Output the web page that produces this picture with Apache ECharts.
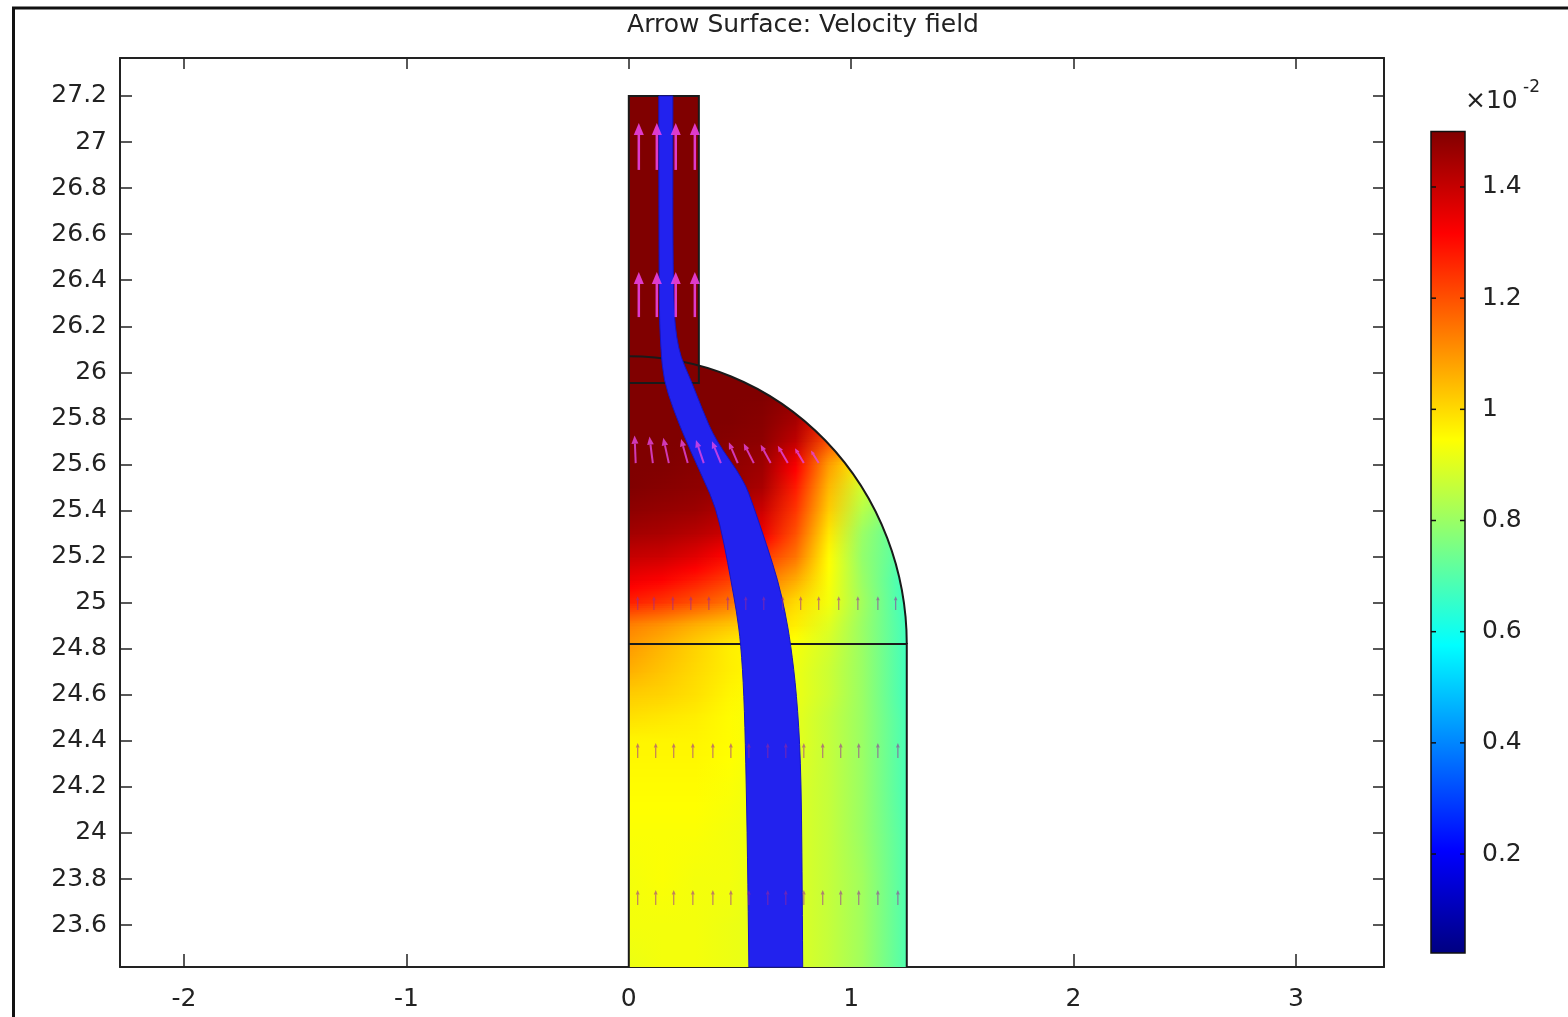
<!DOCTYPE html>
<html>
<head>
<meta charset="utf-8">
<script src="https://cdn.jsdelivr.net/npm/echarts@6.0.0/dist/echarts.min.js"></script>
<style>
  html, body { margin: 0; padding: 0; background: #fff; }
  #main { width: 1568px; height: 1017px; }
</style>
</head>
<body>
<div id="main"></div>
<script>
var FONT = 'DejaVu Sans';
var INK = '#222';

// axis ranges
var xRange = [-2.288, 3.396];
var yRange = [23.418, 27.365];

// colour bar (x10^-2)
var speedRange = [0.022, 1.5];
var colorTicks = [0.2, 0.4, 0.6, 0.8, 1, 1.2, 1.4];

// geometry of the domain
var tubeX = [0, 0.315];
var tubeY = [25.954, 27.2];
var domeCenter = [0, 24.82];
var domeR = 1.25;
var boxX = [0, 1.25];

// velocity magnitude, rows of fieldY, columns at fieldX
var fieldX = [0, 0.15, 0.3, 0.45, 0.6, 0.75, 0.9, 1.05, 1.25];
var fieldY = [23.45, 23.6, 23.8, 24.0, 24.2, 24.4, 24.5, 24.6, 24.7, 24.8, 24.9,
              25.0, 25.1, 25.2, 25.3, 25.4, 25.5, 25.6, 25.7, 25.8, 25.9, 26.0];
var fieldV = [
  [0.92, 0.93, 0.93, 0.92, 0.91, 0.90, 0.86, 0.81, 0.69],
  [0.93, 0.93, 0.93, 0.92, 0.91, 0.90, 0.86, 0.81, 0.69],
  [0.93, 0.94, 0.93, 0.93, 0.91, 0.90, 0.86, 0.81, 0.69],
  [0.94, 0.94, 0.94, 0.93, 0.92, 0.90, 0.86, 0.80, 0.69],
  [0.95, 0.95, 0.95, 0.94, 0.92, 0.90, 0.86, 0.80, 0.68],
  [0.96, 0.96, 0.96, 0.95, 0.93, 0.91, 0.86, 0.80, 0.68],
  [0.99, 0.98, 0.97, 0.95, 0.93, 0.91, 0.86, 0.80, 0.68],
  [1.02, 1.01, 0.99, 0.96, 0.94, 0.92, 0.87, 0.80, 0.67],
  [1.06, 1.03, 1.00, 0.97, 0.95, 0.92, 0.87, 0.80, 0.67],
  [1.09, 1.05, 1.01, 0.97, 0.95, 0.93, 0.88, 0.80, 0.67],
  [1.13, 1.10, 1.06, 1.03, 1.00, 0.97, 0.90, 0.80, 0.67],
  [1.27, 1.24, 1.20, 1.15, 1.08, 1.00, 0.93, 0.81, 0.66],
  [1.34, 1.32, 1.28, 1.23, 1.15, 1.07, 0.94, 0.80, 0.66],
  [1.40, 1.39, 1.36, 1.31, 1.24, 1.15, 0.95, 0.79, 0.68],
  [1.45, 1.44, 1.42, 1.39, 1.34, 1.20, 0.98, 0.80, 0.68],
  [1.48, 1.47, 1.46, 1.43, 1.39, 1.24, 1.02, 0.84, 0.72],
  [1.50, 1.49, 1.48, 1.47, 1.44, 1.28, 1.05, 0.88, 0.80],
  [1.50, 1.50, 1.49, 1.48, 1.46, 1.33, 1.09, 0.95, 0.90],
  [1.50, 1.50, 1.50, 1.49, 1.48, 1.41, 1.20, 1.10, 1.10],
  [1.50, 1.50, 1.50, 1.50, 1.49, 1.45, 1.30, 1.30, 1.30],
  [1.50, 1.50, 1.50, 1.50, 1.50, 1.48, 1.45, 1.45, 1.45],
  [1.50, 1.50, 1.50, 1.50, 1.50, 1.50, 1.50, 1.50, 1.50]
];
var tubeSpeed = 1.5;

// streamline bundle, outer edges (top to bottom)
var bandLeft = [[0.135, 27.2], [0.135, 26.314], [0.144, 26.097], [0.157, 25.967], [0.2, 25.84],
                [0.256, 25.706], [0.337, 25.533], [0.391, 25.415], [0.43, 25.25], [0.459, 25.098],
                [0.485, 24.96], [0.504, 24.82], [0.518, 24.6], [0.526, 24.317], [0.534, 23.9], [0.54, 23.418]];
var bandRight = [[0.198, 27.2], [0.198, 26.314], [0.22, 26.097], [0.279, 25.967], [0.33, 25.84],
                 [0.39, 25.706], [0.517, 25.533], [0.562, 25.415], [0.62, 25.25], [0.67, 25.098],
                 [0.703, 24.96], [0.728, 24.82], [0.755, 24.6], [0.773, 24.317], [0.779, 23.9], [0.782, 23.418]];

// arrows: tail x, tail y, dx, dy
var tubeArrowX = [0.045, 0.126, 0.211, 0.297];
var tubeArrowY = [26.879, 26.24];
var tubeArrowV = [0.204, 0.196];

var domeArrowY = 25.606;
var domeArrowX = [0.031, 0.108, 0.18, 0.265, 0.337, 0.414, 0.49, 0.562, 0.638, 0.715, 0.787, 0.854];
var domeArrowU = [-0.005, -0.015, -0.025, -0.03, -0.035, -0.04, -0.04, -0.045, -0.045, -0.045, -0.04, -0.035];
var domeArrowV = [0.12, 0.115, 0.11, 0.105, 0.1, 0.095, 0.09, 0.085, 0.08, 0.075, 0.065, 0.055];

var lowArrowY = [24.968, 24.326, 23.687];
var lowArrowV = [0.06, 0.065, 0.065];
var lowArrowX = [
  [0.04, 0.113, 0.198, 0.279, 0.36, 0.445, 0.526, 0.607, 0.692, 0.773, 0.854, 0.944, 1.03, 1.12, 1.2],
  [0.04, 0.121, 0.202, 0.288, 0.378, 0.459, 0.54, 0.625, 0.706, 0.787, 0.872, 0.953, 1.034, 1.12, 1.21],
  [0.04, 0.121, 0.202, 0.288, 0.378, 0.459, 0.54, 0.625, 0.706, 0.787, 0.872, 0.953, 1.034, 1.12, 1.21]
];

// rainbow colour table
var jet = [[0, [0, 0, 128]], [0.125, [0, 0, 255]], [0.375, [0, 255, 255]],
           [0.625, [255, 255, 0]], [0.875, [255, 0, 0]], [1, [128, 0, 0]]];

function speedColor(v) {
  var t = (v - speedRange[0]) / (speedRange[1] - speedRange[0]);
  t = Math.max(0, Math.min(1, t));
  for (var i = 1; i < jet.length; i++) {
    if (t <= jet[i][0]) {
      var a = jet[i - 1], b = jet[i], f = (t - a[0]) / (b[0] - a[0]);
      var c = [0, 1, 2].map(function (k) { return Math.round(a[1][k] + (b[1][k] - a[1][k]) * f); });
      return 'rgb(' + c.join(',') + ')';
    }
  }
  return 'rgb(128,0,0)';
}

var tubeArrows = [];
tubeArrowY.forEach(function (y, r) {
  tubeArrowX.forEach(function (x) { tubeArrows.push([x, y, 0, tubeArrowV[r]]); });
});
var domeArrows = domeArrowX.map(function (x, i) { return [x, domeArrowY, domeArrowU[i], domeArrowV[i]]; });
var lowArrows = [];
lowArrowY.forEach(function (y, r) {
  lowArrowX[r].forEach(function (x) { lowArrows.push([x, y, 0, lowArrowV[r]]); });
});

function arrowRenderer(color, width, opacity) {
  return function (params, api) {
    var x = api.value(0), y = api.value(1), u = api.value(2), v = api.value(3);
    var p0 = api.coord([x, y]);
    var p1 = api.coord([x + u, y + v]);
    var dx = p1[0] - p0[0], dy = p1[1] - p0[1];
    var len = Math.sqrt(dx * dx + dy * dy);
    var ux = dx / len, uy = dy / len;
    var hl = Math.min(len * 0.3, 12), hw = hl * 0.42;
    var bx = p1[0] - ux * hl, by = p1[1] - uy * hl;
    return {
      type: 'group',
      children: [
        { type: 'line', shape: { x1: p0[0], y1: p0[1], x2: bx, y2: by },
          style: { stroke: color, lineWidth: width, opacity: opacity } },
        { type: 'polygon', shape: { points: [p1, [bx - uy * hw, by + ux * hw], [bx + uy * hw, by - ux * hw]] },
          style: { fill: color, opacity: opacity } }
      ]
    };
  };
}

// smooth curve through pixel points (midpoint quadratic)
function curveThrough(pts, start) {
  var d = start ? 'M' + pts[0][0] + ' ' + pts[0][1] : ' L' + pts[0][0] + ' ' + pts[0][1];
  for (var k = 1; k < pts.length - 1; k++) {
    var mx = (pts[k][0] + pts[k + 1][0]) / 2, my = (pts[k][1] + pts[k + 1][1]) / 2;
    d += ' Q' + pts[k][0] + ' ' + pts[k][1] + ' ' + mx + ' ' + my;
  }
  var last = pts[pts.length - 1];
  return d + ' L' + last[0] + ' ' + last[1];
}

function gradientFor(vals) {
  var stops = fieldX.map(function (x, j) {
    return { offset: (x - boxX[0]) / (boxX[1] - boxX[0]), color: speedColor(vals[j]) };
  });
  return new echarts.graphic.LinearGradient(0, 0, 1, 0, stops);
}

var chart = echarts.init(document.getElementById('main'));

var axisFont = { fontFamily: FONT, fontSize: 25, color: INK };
var frameLine = { onZero: false, lineStyle: { color: INK, width: 2 } };

var option = {
  animation: false,
  backgroundColor: '#fff',
  graphic: [
    { type: 'rect', shape: { x: 13.5, y: 8, width: 1600, height: 1100 },
      style: { fill: 'none', stroke: '#111', lineWidth: 3 }, silent: true },
    { type: 'text', x: 803, y: 25,
      style: { text: 'Arrow Surface: Velocity field', fontFamily: FONT, fontSize: 25, fill: INK,
               textAlign: 'center', textVerticalAlign: 'middle' } },
    { type: 'text', x: 1465, y: 101,
      style: { text: '\u00d710', fontFamily: FONT, fontSize: 25, fill: INK,
               textAlign: 'left', textVerticalAlign: 'middle' } },
    { type: 'text', x: 1523, y: 88,
      style: { text: '-2', fontFamily: FONT, fontSize: 17, fill: INK,
               textAlign: 'left', textVerticalAlign: 'middle' } }
  ],
  grid: [
    { left: 120, top: 58, width: 1264, height: 909 },
    { left: 1431, top: 131.4, width: 34, height: 833.8 }
  ],
  xAxis: [
    { gridIndex: 0, type: 'value', min: xRange[0], max: xRange[1], splitNumber: 5, position: 'bottom',
      axisLine: frameLine,
      axisTick: { inside: true, length: 13, lineStyle: { color: INK, width: 1.5 } },
      axisLabel: Object.assign({ margin: 20, showMinLabel: false, showMaxLabel: false }, axisFont),
      splitLine: { show: false } },
    { gridIndex: 0, type: 'value', min: xRange[0], max: xRange[1], splitNumber: 5, position: 'top',
      axisLine: frameLine,
      axisTick: { inside: true, length: 11, lineStyle: { color: INK, width: 1.5 } },
      axisLabel: { show: false },
      splitLine: { show: false } },
    { gridIndex: 1, type: 'value', min: 0, max: 1, show: false }
  ],
  yAxis: [
    { gridIndex: 0, type: 'value', min: yRange[0], max: yRange[1], splitNumber: 20, position: 'left',
      axisLine: frameLine,
      axisTick: { inside: true, length: 12, lineStyle: { color: INK, width: 1.5 } },
      axisLabel: Object.assign({ margin: 13, showMinLabel: false, showMaxLabel: false }, axisFont),
      splitLine: { show: false } },
    { gridIndex: 0, type: 'value', min: yRange[0], max: yRange[1], splitNumber: 20, position: 'right',
      axisLine: frameLine,
      axisTick: { inside: true, length: 11, lineStyle: { color: INK, width: 1.5 } },
      axisLabel: { show: false },
      splitLine: { show: false } },
    { gridIndex: 1, type: 'value', min: 0, max: 1.5, interval: 0.2, position: 'right',
      axisLine: { show: false, onZero: false }, axisTick: { show: false }, splitLine: { show: false },
      axisLabel: Object.assign({
        margin: 17,
        formatter: function (v) { return colorTicks.indexOf(v) >= 0 ? String(v) : ''; }
      }, axisFont) }
  ],
  series: [
    // surface: band between consecutive rows, shaded in thin strips
    {
      type: 'custom', xAxisIndex: 0, yAxisIndex: 0,
      data: fieldY.map(function (y, i) { return [boxX[0], y, i]; }),
      renderItem: function (params, api) {
        var i = api.value(2), n = fieldY.length;
        var children = [];
        var lo = fieldY[i];
        var hi = i === n - 1 ? domeCenter[1] + domeR : fieldY[i + 1];
        var next = i === n - 1 ? fieldV[i] : fieldV[i + 1];
        var a = api.coord([boxX[0], hi]), b = api.coord([boxX[1], lo]);
        var h = b[1] - a[1];
        var strips = Math.max(1, Math.ceil(h / 2));
        for (var s = 0; s < strips; s++) {
          var f = 1 - (s + 0.5) / strips;
          var vals = fieldV[i].map(function (v, j) { return v + (next[j] - v) * f; });
          children.push({
            type: 'rect',
            shape: { x: a[0], y: a[1] + h * s / strips - 0.5, width: b[0] - a[0], height: h / strips + 1 },
            style: { fill: gradientFor(vals) }
          });
        }
        if (i === 0) {
          var c = api.coord([boxX[0], yRange[0]]);
          children.push({
            type: 'rect',
            shape: { x: a[0], y: b[1] - 0.5, width: b[0] - a[0], height: c[1] - b[1] + 0.5 },
            style: { fill: gradientFor(fieldV[0]) }
          });
        }
        return { type: 'group', children: children };
      }
    },
    // blank out everything outside the rounded top
    {
      type: 'custom', xAxisIndex: 0, yAxisIndex: 0,
      data: [[domeCenter[0], domeCenter[1]]],
      renderItem: function (params, api) {
        var c = api.coord(domeCenter), s = api.size([domeR, domeR]);
        var rx = s[0], ry = s[1];
        var d = 'M' + (c[0] + rx) + ' ' + c[1] +
                ' A' + rx + ' ' + ry + ' 0 0 0 ' + c[0] + ' ' + (c[1] - ry) +
                ' L' + c[0] + ' ' + (c[1] - ry - 4) +
                ' L' + (c[0] + rx + 4) + ' ' + (c[1] - ry - 4) +
                ' L' + (c[0] + rx + 4) + ' ' + c[1] + ' Z';
        return { type: 'path', shape: { pathData: d }, style: { fill: '#fff' } };
      }
    },
    // inlet tube
    {
      type: 'custom', xAxisIndex: 0, yAxisIndex: 0,
      data: [[tubeX[0], tubeY[0]]],
      renderItem: function (params, api) {
        var a = api.coord([tubeX[0], tubeY[1]]), b = api.coord([tubeX[1], tubeY[0]]);
        return { type: 'rect', shape: { x: a[0], y: a[1], width: b[0] - a[0], height: b[1] - a[1] },
                 style: { fill: speedColor(tubeSpeed) } };
      }
    },
    // domain outline
    {
      type: 'custom', xAxisIndex: 0, yAxisIndex: 0,
      data: [[domeCenter[0], domeCenter[1]]],
      renderItem: function (params, api) {
        var c = api.coord(domeCenter), s = api.size([domeR, domeR]);
        var arc = 'M' + (c[0] + s[0]) + ' ' + c[1] + ' A' + s[0] + ' ' + s[1] + ' 0 0 0 ' + c[0] + ' ' + (c[1] - s[1]);
        var tube = [[boxX[0], yRange[0]], [tubeX[0], tubeY[1]], [tubeX[1], tubeY[1]], [tubeX[1], tubeY[0]], [tubeX[0], tubeY[0]]];
        var box = [[boxX[0], domeCenter[1]], [boxX[1], domeCenter[1]], [boxX[1], yRange[0]]];
        var ls = { stroke: '#1a1a1a', lineWidth: 2, fill: 'none' };
        return {
          type: 'group',
          children: [
            { type: 'path', shape: { pathData: arc }, style: ls },
            { type: 'polyline', shape: { points: tube.map(api.coord) }, style: ls },
            { type: 'polyline', shape: { points: box.map(api.coord) }, style: ls }
          ]
        };
      }
    },
    // streamline bundle
    {
      type: 'custom', xAxisIndex: 0, yAxisIndex: 0,
      data: [[bandLeft[0][0], bandLeft[0][1]]],
      renderItem: function (params, api) {
        var left = bandLeft.map(api.coord);
        var right = bandRight.slice().reverse().map(api.coord);
        var d = curveThrough(left, true) + curveThrough(right, false) + ' Z';
        return { type: 'path', shape: { pathData: d },
                 style: { fill: '#2222ee', stroke: '#1414c4', lineWidth: 1 } };
      }
    },
    { type: 'custom', xAxisIndex: 0, yAxisIndex: 0, data: lowArrows,
      renderItem: arrowRenderer('#9a2a9a', 1.2, 0.6) },
    { type: 'custom', xAxisIndex: 0, yAxisIndex: 0, data: domeArrows,
      renderItem: arrowRenderer('#e447e4', 2, 0.8) },
    { type: 'custom', xAxisIndex: 0, yAxisIndex: 0, data: tubeArrows,
      renderItem: arrowRenderer('#ee44ee', 2.5, 0.85) },
    // colour bar
    {
      type: 'custom', xAxisIndex: 2, yAxisIndex: 2,
      data: [[0, speedRange[0]]],
      renderItem: function (params, api) {
        var a = api.coord([0, speedRange[1]]), b = api.coord([1, speedRange[0]]);
        var stops = jet.map(function (s) {
          return { offset: 1 - s[0], color: 'rgb(' + s[1].join(',') + ')' };
        }).reverse();
        return { type: 'rect', shape: { x: a[0], y: a[1], width: b[0] - a[0], height: b[1] - a[1] },
                 style: { fill: new echarts.graphic.LinearGradient(0, 0, 0, 1, stops), stroke: '#111', lineWidth: 1.5 } };
      }
    },
    {
      type: 'custom', xAxisIndex: 2, yAxisIndex: 2,
      data: colorTicks.map(function (v) { return [0, v]; }),
      renderItem: function (params, api) {
        var l = api.coord([0, api.value(1)]), r = api.coord([1, api.value(1)]);
        var st = { stroke: '#111', lineWidth: 1.5 };
        return {
          type: 'group',
          children: [
            { type: 'line', shape: { x1: l[0], y1: l[1], x2: l[0] + 5, y2: l[1] }, style: st },
            { type: 'line', shape: { x1: r[0] - 5, y1: r[1], x2: r[0], y2: r[1] }, style: st }
          ]
        };
      }
    }
  ]
};

chart.setOption(option);
</script>
</body>
</html>
